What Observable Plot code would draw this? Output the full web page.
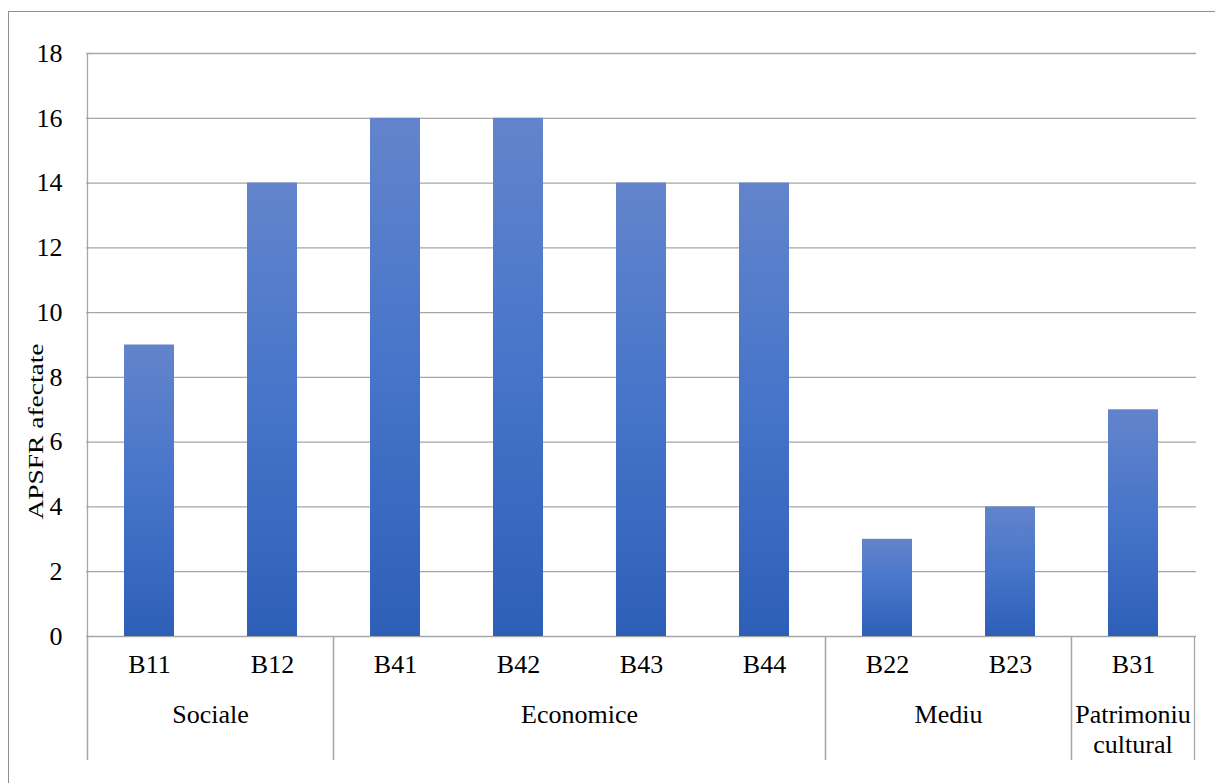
<!DOCTYPE html>
<html>
<head>
<meta charset="utf-8">
<script src="https://cdn.jsdelivr.net/npm/d3@7"></script>
<script src="https://cdn.jsdelivr.net/npm/@observablehq/plot@0.6"></script>
<style>
  html, body { margin: 0; padding: 0; background: #fff; }
  #wrap { position: relative; width: 1215px; height: 783px; overflow: hidden; }
  #frame { position: absolute; left: 8px; top: 11px; width: 1230px; height: 800px; border: 1.5px solid #8f8f8f; box-sizing: border-box; }
  #chart { position: absolute; left: 0; top: 0; }
  #chart svg text { font-family: "Liberation Serif", "DejaVu Serif", serif; }
</style>
</head>
<body>
<div id="wrap"><div id="frame"></div><div id="chart"></div></div>
<script>
const categories = ["B11", "B12", "B41", "B42", "B43", "B44", "B22", "B23", "B31"];
const values = [9, 14, 16, 16, 14, 14, 3, 4, 7];
const groupOf = ["Sociale", "Sociale", "Economice", "Economice", "Economice", "Economice", "Mediu", "Mediu", "Patrimoniu cultural"];
const groupNames = ["Sociale", "Economice", "Mediu", "Patrimoniu cultural"];
const groupLines = [["Sociale"], ["Economice"], ["Mediu"], ["Patrimoniu", "cultural"]];
const yTicks = [0, 2, 4, 6, 8, 10, 12, 14, 16, 18];
const yLabel = "APSFR afectate";

const data = categories.map((c, i) => ({code: c, value: values[i], group: groupOf[i]}));
const font = "Liberation Serif, DejaVu Serif, serif";
const grid = "#a6a6a6";

const plot = Plot.plot({
  width: 1215,
  height: 783,
  marginLeft: 86,
  marginRight: 19,
  marginTop: 53,
  marginBottom: 147,
  style: {fontFamily: font, fontSize: "26px", color: "#000", background: "transparent", overflow: "visible"},
  x: {domain: categories, paddingInner: 0.595, paddingOuter: 0.2975, axis: null, label: null},
  y: {domain: [0, 18], axis: null, label: null},
  marks: [
    Plot.gridY(yTicks, {stroke: grid, strokeOpacity: 1, strokeWidth: 1.3}),
    Plot.barY(data, {x: "code", y: "value", fill: "url(#barGrad)"}),
    Plot.axisY(yTicks, {tickSize: 0, tickPadding: 24, fontSize: 26, fill: "#000", label: null}),
    Plot.axisX({tickSize: 0, tickPadding: 18, fontSize: 26, fill: "#000", label: null})
  ]
});
document.getElementById("chart").appendChild(plot);

const svg = d3.select(plot);
const defs = svg.insert("defs", ":first-child");
const lg = defs.append("linearGradient").attr("id", "barGrad")
  .attr("x1", 0).attr("y1", 0).attr("x2", 0).attr("y2", 1);
lg.append("stop").attr("offset", "0%").attr("stop-color", "#6384cc");
lg.append("stop").attr("offset", "50%").attr("stop-color", "#4574c9");
lg.append("stop").attr("offset", "100%").attr("stop-color", "#2e5fb8");

const xs = plot.scale("x");
const ys = plot.scale("y");
const step = xs.step, bw = xs.bandwidth;
const half = (step - bw) / 2;
const y0 = ys.apply(0), yTop = ys.apply(18);
const yBottom = y0 + 124;

const g = svg.append("g");
const xLeft = xs.apply(categories[0]) - half;
g.append("line").attr("x1", xLeft).attr("x2", xLeft).attr("y1", yTop).attr("y2", yBottom)
  .attr("stroke", grid).attr("stroke-width", 1.3);

groupNames.forEach((name, gi) => {
  const codes = categories.filter((c, i) => groupOf[i] === name);
  const left = xs.apply(codes[0]) - half;
  const right = xs.apply(codes[codes.length - 1]) + bw + half;
  [left, right].forEach(xx => {
    g.append("line").attr("x1", xx).attr("x2", xx).attr("y1", y0).attr("y2", yBottom)
      .attr("stroke", grid).attr("stroke-width", 1.3);
  });
  const t = g.append("text").attr("x", (left + right) / 2).attr("y", y0 + 87)
    .attr("text-anchor", "middle").attr("font-size", 26).attr("fill", "#000");
  groupLines[gi].forEach((ln, li) => {
    t.append("tspan").attr("x", (left + right) / 2).attr("dy", li === 0 ? 0 : 30).text(ln);
  });
});

g.append("text")
  .attr("transform", `translate(43, ${(yTop + yBottom) / 2 + 25}) rotate(-90)`)
  .attr("text-anchor", "middle")
  .attr("font-size", 22).attr("fill", "#000")
  .attr("textLength", 176).attr("lengthAdjust", "spacingAndGlyphs")
  .text(yLabel);
</script>
</body>
</html>
